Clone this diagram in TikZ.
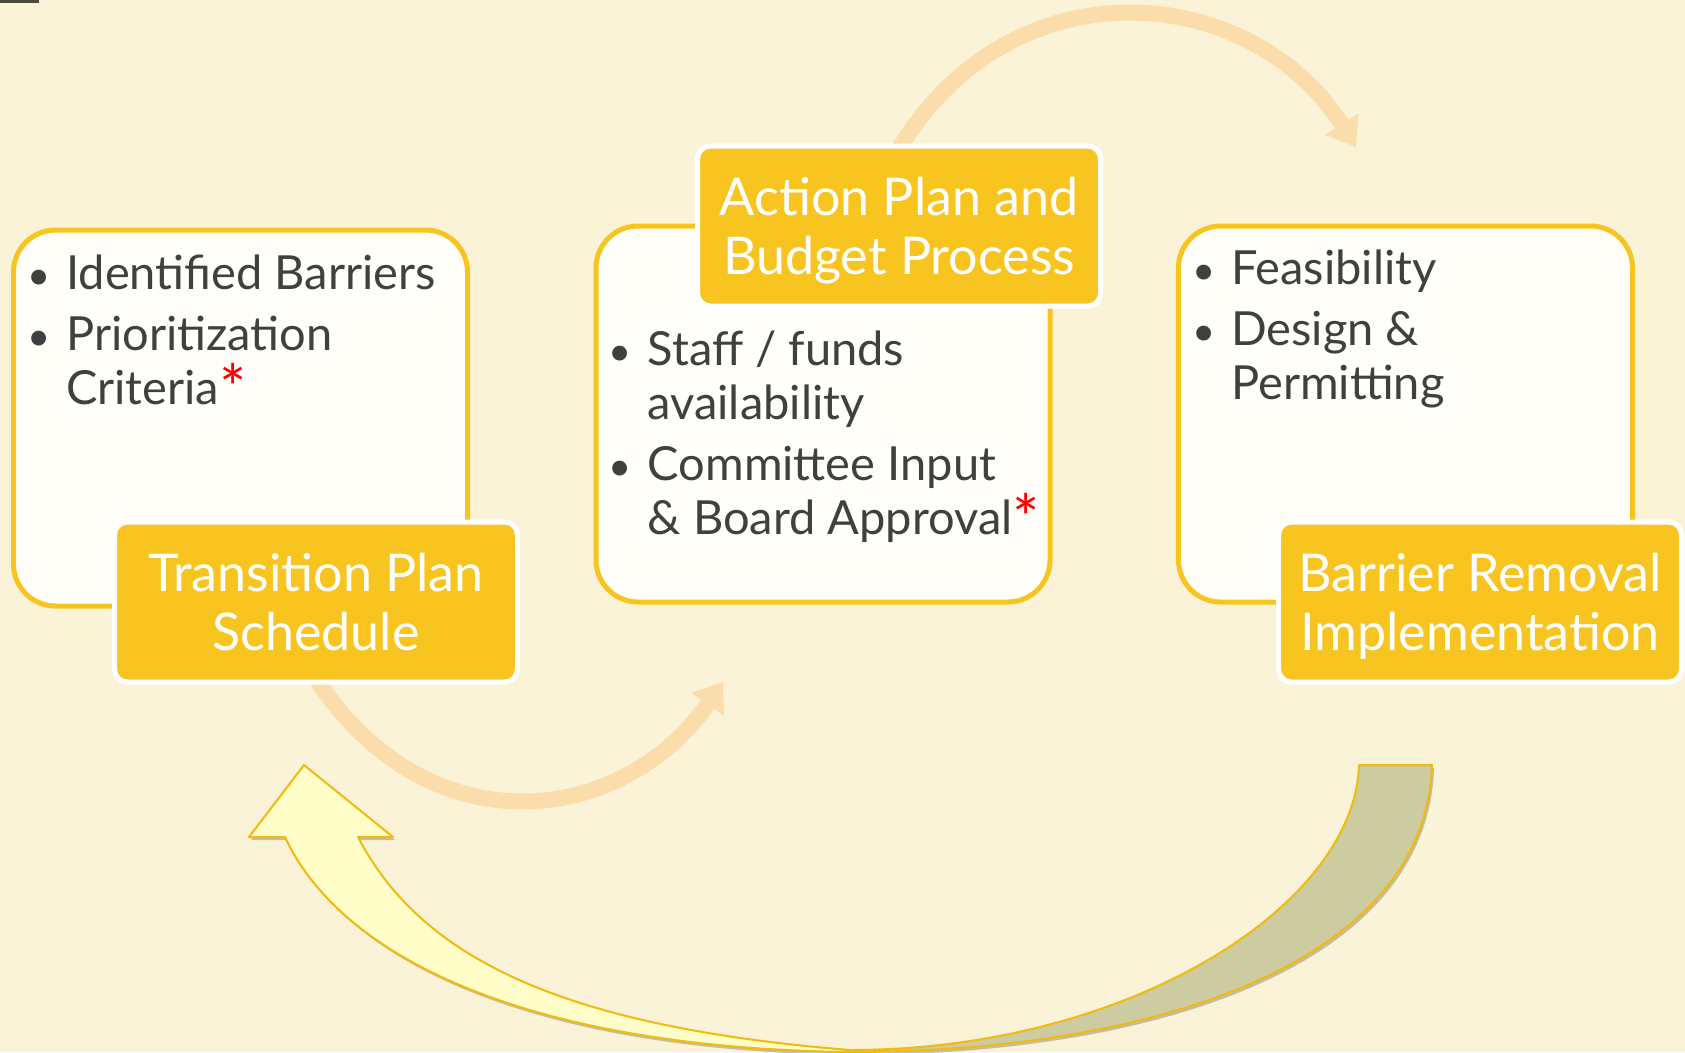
\documentclass[tikz,border=0pt]{standalone}
\usepackage{fontspec}
\setmainfont{Lato}
\usetikzlibrary{arrows.meta,shadows}
\definecolor{bgcream}{HTML}{FAF3D7}
\definecolor{labelgold}{HTML}{F8C41F}
\definecolor{boxwhite}{HTML}{FFFEF8}
\definecolor{textgray}{HTML}{404040}
\definecolor{paleorange}{HTML}{FADDAB}
\definecolor{arrowgold}{HTML}{F3B90C}
\definecolor{frontyellow}{HTML}{FFFDC8}
\definecolor{backolive}{HTML}{CCCCA0}
\definecolor{darkolive}{HTML}{4A4A3A}
\newcommand{\bul}{\makebox[35pt][l]{\kern-4pt\scalebox{0.85}{\textbullet}}}
\newcommand{\ind}{\hspace*{35pt}}
\newcommand{\redstar}{\textcolor{red}{\raisebox{-7pt}{\fontsize{64}{64}\selectfont *}}}

\begin{document}
\begin{tikzpicture}[x=1pt,y=-1pt,
  box/.style={draw=labelgold,line width=5pt,fill=boxwhite,rounded corners=42pt,
    minimum width=454pt,minimum height=376pt},
  tag/.style={draw=white,line width=5pt,fill=labelgold,rounded corners=13pt,
    minimum width=403pt,minimum height=160pt,text=white,align=center,
    text depth=0pt,font=\fontsize{52}{59}\selectfont},
  items/.style={anchor=north west,inner sep=0pt,align=left,text=textgray,
    font=\fontsize{47}{54}\selectfont},
  arcline/.style={paleorange,line width=16pt,-{Triangle[length=27pt,width=38pt]}},
  bigarrow/.style={draw=arrowgold,line width=2pt,line join=round,
    drop shadow={shadow xshift=2pt,shadow yshift=-3pt,fill=black,opacity=0.22}}]
\fill[bgcream] (0,0) rectangle (1685,1052);
\useasboundingbox (0,0) rectangle (1685,1052);
\fill[darkolive] (0,0) rectangle (39,3);
% --- big curved return arrow, back side then front side
\filldraw[bigarrow,fill=backolive] (1359,765) -- (1432,765)
  .. controls (1426,965) and (1150,1052) .. (850,1052)
  -- (850,1050) .. controls (1130,1050) and (1355,905) .. cycle;
\filldraw[bigarrow,fill=frontyellow] (304,765) -- (393,837) -- (358,837)
  .. controls (418,952) and (550,1026) .. (850,1050)
  -- (850,1052) .. controls (520,1048) and (339,954) .. (285,837)
  -- (249,837) -- cycle;
% --- the three step labels (placed first so arcs can hook on)
\node[tag] (trans) at (316,602) {Transition Plan\\Schedule};
\node[tag] (action) at (899,226) {Action Plan and\\Budget Process};
\node[tag] (barrier) at (1480,602) {Barrier Removal\\Implementation};
\coordinate (toptip) at (1356,147);
\coordinate (midtip) at (723,682);
% --- pale arcs between the steps
\draw[arcline] (action.north) ++(-9,21) .. controls (1001,-42) and (1250,-21) .. (toptip);
\draw[arcline] (trans.south) ++(-10,-22) .. controls (418,853) and (621,829) .. (midtip);
% --- white boxes
\node[box] (leftbox) at (240.5,418) {};
\node[box] (midbox) at (823,414) {};
\node[box] (rightbox) at (1405.5,414) {};
% --- labels again on top of the boxes
\node[tag] at (trans) {Transition Plan\\Schedule};
\node[tag] at (action) {Action Plan and\\Budget Process};
\node[tag] at (barrier) {Barrier Removal\\Implementation};
% --- bullet texts
\node[items] (lefttext) at ([shift={(20,27)}]leftbox.north west)
  {\bul Identified Barriers\\[7pt]\bul Prioritization\\\ind Criteria\redstar};
\node[items] (midtext) at ([shift={(19,107)}]midbox.north west)
  {\bul Staff / funds\\\ind availability\\[7pt]\bul Committee Input\\\ind \& Board Approval\redstar};
\node[items] (righttext) at ([shift={(20,26)}]rightbox.north west)
  {\bul Feasibility\\[7pt]\bul Design \&\\\ind Permitting};
\end{tikzpicture}
\end{document}
